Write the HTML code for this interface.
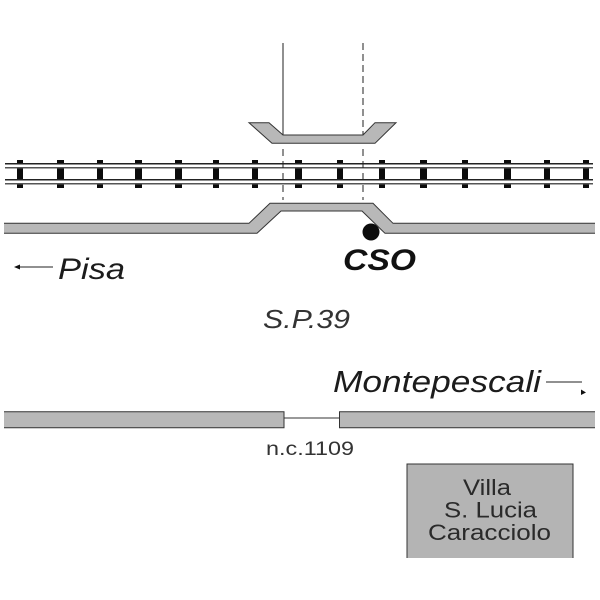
<!DOCTYPE html>
<html>
<head>
<meta charset="utf-8">
<style>
html,body{margin:0;padding:0;background:#fff;width:600px;height:600px;overflow:hidden}
svg{display:block}
text{font-family:"Liberation Sans",sans-serif;fill:#1c1c1c}
</style>
</head>
<body>
<svg width="600" height="600" viewBox="0 0 600 600" xmlns="http://www.w3.org/2000/svg">
<rect width="600" height="600" fill="#fff"/>
<!-- ties -->
<g fill="#0c0c0c">
<rect x="17" y="160" width="6" height="28"/>
<rect x="57" y="160" width="7" height="28"/>
<rect x="97" y="160" width="6" height="28"/>
<rect x="135" y="160" width="7" height="28"/>
<rect x="175" y="160" width="7" height="28"/>
<rect x="213" y="160" width="6" height="28"/>
<rect x="252" y="160" width="6" height="28"/>
<rect x="295" y="160" width="7" height="28"/>
<rect x="337" y="160" width="6" height="28"/>
<rect x="379" y="160" width="6" height="28"/>
<rect x="420" y="160" width="7" height="28"/>
<rect x="462" y="160" width="6" height="28"/>
<rect x="504" y="160" width="7" height="28"/>
<rect x="544" y="160" width="6" height="28"/>
<rect x="583" y="160" width="6" height="28"/>
</g>
<!-- rails -->
<rect x="5" y="164.500" width="588" height="2.500" fill="#fff"/>
<rect x="5" y="180.500" width="588" height="2.500" fill="#fff"/>
<g stroke-width="1.500">
<line x1="5" y1="163.700" x2="593" y2="163.700" stroke="#222"/>
<line x1="5" y1="167.700" x2="593" y2="167.700" stroke="#555"/>
<line x1="5" y1="179.800" x2="593" y2="179.800" stroke="#222"/>
<line x1="5" y1="183.800" x2="593" y2="183.800" stroke="#555"/>
</g>
<!-- centre lines -->
<line x1="283" y1="43" x2="283" y2="135" stroke="#222" stroke-width="1"/>
<line x1="363" y1="43" x2="363" y2="135" stroke="#222" stroke-width="1" stroke-dasharray="7 4"/>
<line x1="283" y1="149" x2="283" y2="200" stroke="#222" stroke-width="1" stroke-dasharray="7 5"/>
<line x1="363" y1="149" x2="363" y2="200" stroke="#222" stroke-width="1" stroke-dasharray="7 5"/>
<!-- upper bridge -->
<polygon points="249,122.700 269,122.700 283,135 363,135 375,122.700 396,122.700 375,143.300 272,143.300" fill="#b8b8b8" stroke="#333" stroke-width="1"/>
<!-- dot sits under the road -->
<ellipse cx="371" cy="232" rx="8.500" ry="8.500" fill="#0c0c0c"/>
<!-- road -->
<polygon points="4,223.300 249,223.300 270,203.300 373,203.300 393,223.300 595,223.300 595,233.300 385,233.300 362,211 281,211 257,233.300 4,233.300" fill="#b8b8b8"/>
<path d="M4 223.300H249L270 203.300H373L393 223.300H595M595 233.300H385L362 211H281L257 233.300H4" fill="none" stroke="#333" stroke-width="1"/>
<text x="343" y="270" font-size="30" font-weight="bold" font-style="italic" textLength="73" lengthAdjust="spacingAndGlyphs" style="fill:#111">CSO</text>
<!-- Pisa -->
<line x1="17" y1="267" x2="53" y2="267" stroke="#222" stroke-width="1"/>
<polygon points="14,267 20,264.500 20,269.500" fill="#111"/>
<text x="58" y="279" font-size="30" font-style="italic" textLength="67" lengthAdjust="spacingAndGlyphs">Pisa</text>
<text x="263" y="328" font-size="26" font-style="italic" textLength="87" lengthAdjust="spacingAndGlyphs" style="fill:#333">S.P.39</text>
<text x="333" y="392" font-size="31" font-style="italic" textLength="208" lengthAdjust="spacingAndGlyphs">Montepescali</text>
<line x1="546" y1="382" x2="582" y2="382" stroke="#222" stroke-width="1"/>
<polygon points="581,389.500 586,392.500 581,395" fill="#111"/>
<!-- lower road -->
<line x1="284" y1="418" x2="339" y2="418" stroke="#333" stroke-width="1"/>
<rect x="4" y="411.700" width="280" height="16" fill="#b8b8b8"/>
<path d="M4 411.700H284V427.700H4" fill="none" stroke="#333" stroke-width="1"/>
<rect x="339.500" y="411.700" width="255.500" height="16" fill="#b8b8b8"/>
<path d="M595 411.700H339.500V427.700H595" fill="none" stroke="#333" stroke-width="1"/>
<text x="266" y="455" font-size="19" textLength="88" lengthAdjust="spacingAndGlyphs" style="fill:#333">n.c.1109</text>
<!-- villa -->
<rect x="407" y="464" width="166" height="94" fill="#b4b4b4"/>
<path d="M407 558V464H573V558" fill="none" stroke="#333" stroke-width="1"/>
<g font-size="22">
<text x="463" y="495" textLength="48" lengthAdjust="spacingAndGlyphs" style="fill:#2a2a2a">Villa</text>
<text x="444" y="517.500" textLength="93" lengthAdjust="spacingAndGlyphs" style="fill:#2a2a2a">S. Lucia</text>
<text x="428" y="540" textLength="123" lengthAdjust="spacingAndGlyphs" style="fill:#2a2a2a">Caracciolo</text>
</g>
</svg>
</body>
</html>
